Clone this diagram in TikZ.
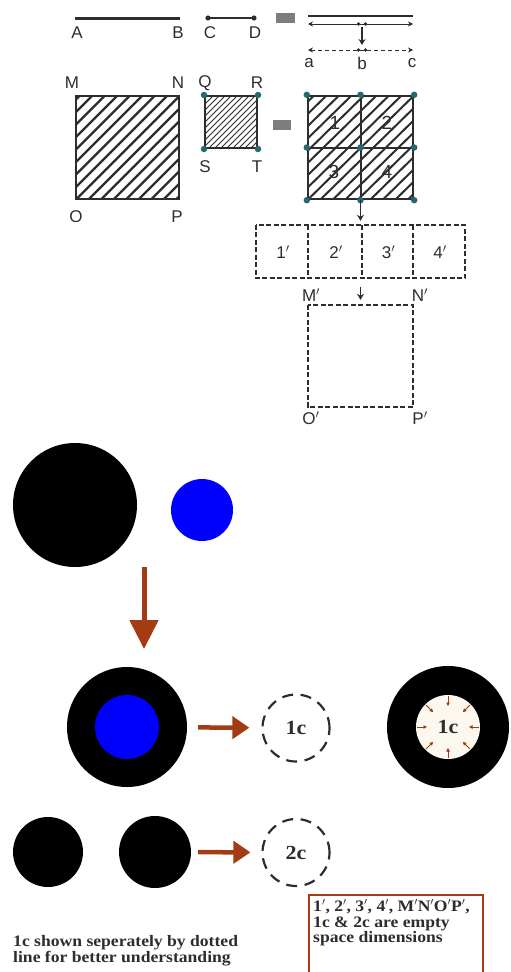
\documentclass[tikz,border=0pt]{standalone}
\usepackage{fontspec}
\setmainfont{Liberation Serif}
\newfontfamily\labfont{Liberation Sans}
\newfontfamily\notefont[FakeStretch=1.1]{Liberation Serif}
\usetikzlibrary{arrows.meta}
\definecolor{brn}{RGB}{163,60,20}
\definecolor{tealdot}{RGB}{40,105,110}
\definecolor{eqgray}{RGB}{125,125,125}
\definecolor{ink}{RGB}{45,45,45}
\definecolor{cream}{RGB}{252,248,240}
\newcommand{\pr}{\ensuremath{'}}
\begin{document}
\begin{tikzpicture}[x=1pt,y=-1pt,
  lbl/.style={font=\labfont\fontsize{17}{17}\selectfont, text=ink, inner sep=0pt},
  sqbox/.style={draw=ink, line width=2.4pt, minimum width=103pt, minimum height=103pt, inner sep=0pt},
  dbox/.style={draw=ink, line width=1.8pt, dash pattern=on 5pt off 2.5pt},
  tdot/.style={circle, fill=tealdot, inner sep=0pt, minimum size=6.5pt},
  smallarr/.style={-{Stealth[length=6pt,width=7pt]}, line width=1.3pt, draw=ink},
  brnarrow/.style={draw=brn, line width=4.5pt, -{Triangle[length=17pt,width=22pt]}},
  dcirc/.style={circle, draw=ink, line width=2.2pt, dash pattern=on 11pt off 7.5pt, minimum size=67pt, inner sep=0pt,
     font=\notefont\bfseries\fontsize{20}{20}\selectfont, text=ink},
  ser/.style={font=\notefont\bfseries\fontsize{16}{16}\selectfont, text=ink, inner sep=0pt, align=left}
]
\useasboundingbox (0,0) rectangle (511,972);

% ---------- top row: segments ----------
\draw[ink, line width=3pt] (75,18) -- (180,18);
\node[lbl] (lA) at (77,33) {A};
\node[lbl] (lB) at (178,33) {B};
\draw[ink, line width=2pt] (208,18) -- (254,18);
\fill[ink] (208,18) circle (2.6pt) (254,18) circle (2.6pt);
\node[lbl] (lC) at (210,33) {C};
\node[lbl] (lD) at (255,33) {D};
\fill[eqgray] (276,13) rectangle (295,23);

\draw[ink, line width=2.6pt] (308,16) -- (413,16);
\draw[ink, line width=1pt, {Stealth[length=5pt,width=5pt]}-{Stealth[length=5pt,width=5pt]}] (308,24) -- (413,24);
\fill[ink] (358.5,24) circle (1.8pt) (365.5,24) circle (1.8pt);
\coordinate (ds) at (362,27);
\coordinate (de) at (362,45);
\draw[smallarr] (ds) -- (de);
\draw[ink, line width=1pt, dash pattern=on 4pt off 3pt, {Stealth[length=5pt,width=5pt]}-{Stealth[length=5pt,width=5pt]}] (308,50) -- (413,50);
\fill[ink] (358.5,50) circle (1.8pt) (365.5,50) circle (1.8pt);
\node[lbl] (la) at (309,63) {a};
\node[lbl] (lb) at (362,63) {b};
\node[lbl] (lc) at (412,63) {c};

% ---------- MNOP ----------
\begin{scope}
\clip (76,96) rectangle (179,199);
\foreach \i in {-112,-99.5,...,112} \draw[ink, line width=2.3pt] (76+\i,199) -- (179+\i,96);
\end{scope}
\node[sqbox] (MNOP) at (127.5,147.5) {};
\node[lbl] (lM) at (72,83) {M};
\node[lbl] (lN) at (178,83) {N};
\node[lbl] (lO) at (76,217) {O};
\node[lbl] (lP) at (177,217) {P};

% ---------- QRST ----------
\begin{scope}
\clip (205,96) rectangle (257,148);
\foreach \i in {-56,-50,...,56} \draw[ink, line width=1pt] (205+\i,148) -- (257+\i,96);
\end{scope}
\node[sqbox, line width=2pt, minimum width=52pt, minimum height=52pt] (QRST) at (231,122) {};
\foreach \c in {north west, north east, south west, south east} \node[tdot] at (QRST.\c) {};
\node[lbl] (lQ) at (205,83) {Q};
\node[lbl] (lR) at (257,83) {R};
\node[lbl] (lS) at (205,167) {S};
\node[lbl] (lT) at (257,167) {T};
\fill[eqgray] (273,120) rectangle (291,130);

% ---------- grid ----------
\begin{scope}
\clip (308,96) rectangle (413,199);
\foreach \i in {-112,-99.5,...,112} \draw[ink, line width=2pt] (308+\i,199) -- (413+\i,96);
\end{scope}
\node[sqbox, minimum width=105pt] (grid) at (360.5,147.5) {};
\draw[ink, line width=2pt] (grid.north) -- (grid.south);
\draw[ink, line width=2pt] (grid.west) -- (grid.east);
\foreach \c in {north west, north, north east, west, center, east, south west, south, south east} \node[tdot] at (grid.\c) {};
\node[lbl, font=\labfont\fontsize{19}{19}\selectfont] (g1) at (335,123) {1};
\node[lbl, font=\labfont\fontsize{19}{19}\selectfont] (g2) at (387,123) {2};
\node[lbl, font=\labfont\fontsize{19}{19}\selectfont] (g3) at (334,172) {3};
\node[lbl, font=\labfont\fontsize{19}{19}\selectfont] (g4) at (387,172) {4};

% ---------- dashed cells ----------
\node[minimum width=209pt, minimum height=53pt, inner sep=0pt] (cells) at (360.5,251.5) {};
\draw[dbox] (cells.north west) rectangle (cells.south east);
\draw[dbox] (308,225) -- (308,278);
\draw[dbox] (362,225) -- (362,278);
\draw[dbox] (413,225) -- (413,278);
\node[lbl] (c1) at (283,252) {1\pr};
\node[lbl] (c2) at (336,252) {2\pr};
\node[lbl] (c3) at (388.5,252) {3\pr};
\node[lbl] (c4) at (440,252) {4\pr};
\draw[smallarr, shorten >=4pt] (grid.south) -- (cells.north);

% ---------- M'N'O'P' ----------
\node[minimum width=105pt, minimum height=102pt, inner sep=0pt] (sq) at (360.5,356) {};
\draw[dbox] (sq.north west) rectangle (sq.south east);
\draw[smallarr, shorten <=9pt, shorten >=5pt] (cells.south) -- (sq.north);
\node[lbl] (lM2) at (311,295) {M\pr};
\node[lbl] (lN2) at (420,295) {N\pr};
\node[lbl] (lO2) at (311,418) {O\pr};
\node[lbl] (lP2) at (420,418) {P\pr};

% ---------- circles ----------
\node[circle, fill=black, minimum size=124pt, inner sep=0pt] (bigC) at (75,505) {};
\node[circle, fill=blue, minimum size=62pt, inner sep=0pt] (blueC) at (202,510) {};
\coordinate (b1) at (144,567);
\coordinate (b2) at (144,649);
\draw[draw=brn, line width=5pt, -{Triangle[length=29pt,width=28pt]}] (b1) -- (b2);

\node[circle, fill=black, minimum size=120pt, inner sep=0pt] (ring1) at (127,727) {};
\node[circle, fill=blue, minimum size=64pt, inner sep=0pt] (core1) at (127,727) {};
\node[dcirc] (d1) at (296,728) {1c};
\draw[brnarrow, shorten <=11pt, shorten >=12pt] (ring1) -- (d1);

\node[circle, fill=black, minimum size=122pt, inner sep=0pt] (ring2) at (448,727) {};
\node[circle, fill=cream, minimum size=64pt, inner sep=0pt, font=\notefont\bfseries\fontsize{20}{20}\selectfont, text=ink] (core2) at (448,727) {1c};
\foreach \a in {0,45,...,315}
  \draw[brn, line width=0.9pt, -{Triangle[length=3.5pt,width=3.5pt]}] ([shift={(\a:31)}]core2.center) -- ([shift={(\a:21)}]core2.center);

\node[circle, fill=black, minimum size=70pt, inner sep=0pt] (s1) at (48,852) {};
\node[circle, fill=black, minimum size=72pt, inner sep=0pt] (s2) at (155,852) {};
\node[dcirc] (d2) at (296,852.5) {2c};
\draw[brnarrow, shorten <=7pt, shorten >=11pt] (s2) -- (d2);

% ---------- texts ----------
\node[ser, anchor=north west] (note) at (13,935) {1c shown seperately by dotted\\[0pt]line for better understanding};
\draw[brn, line width=2pt] (309,975) -- (309,895) -- (483,895) -- (483,975);
\node[ser, anchor=north west] (legend) at (313,899) {1\pr, 2\pr, 3\pr, 4\pr, M\pr N\pr O\pr P\pr,\\[0pt]1c \& 2c are empty\\[-1pt]space dimensions};
\end{tikzpicture}
\end{document}
